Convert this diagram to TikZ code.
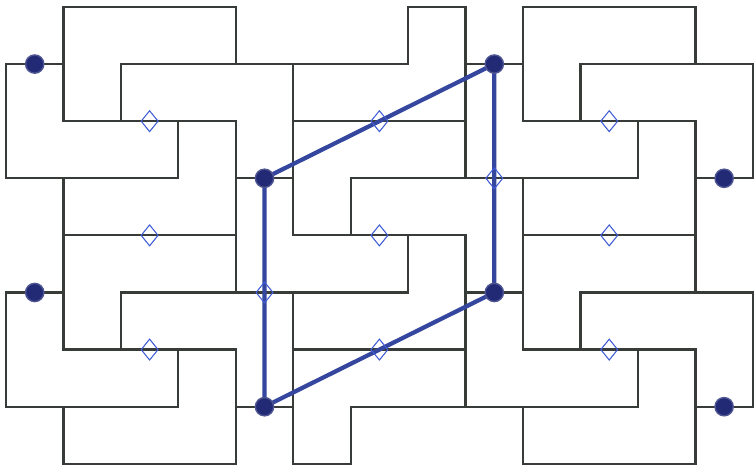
\documentclass[tikz,border=0pt]{standalone}
\usetikzlibrary{shapes.geometric}

\definecolor{wallgray}{RGB}{56,60,56}
\definecolor{penblue}{RGB}{52,70,158}
\definecolor{inkblue}{RGB}{34,42,118}
\definecolor{markblue}{RGB}{64,92,214}

\begin{document}
\begin{tikzpicture}[
  x=1.728cm, y=-1.7175cm,
  wall/.style={draw=wallgray, line width=1.9pt, line cap=rect},
  bond/.style={draw=penblue, line width=3.6pt, line cap=round},
  dot/.style={circle, draw=inkblue!80, line width=1.2pt, fill=inkblue, minimum size=0.55cm, inner sep=0pt},
  diam/.style={diamond, draw=markblue, line width=0.9pt, minimum width=0.52cm, minimum height=0.64cm, inner sep=0pt}
]

% page frame
\fill[white] (-0.104,-0.122) rectangle (13.02,8.087);
\useasboundingbox (-0.104,-0.122) rectangle (13.02,8.087);

% lattice points
\foreach \n/\px/\py in {a/0.5/1, b/4.5/3, c/8.5/1, d/12.5/3, e/0.5/5, f/4.5/7, g/8.5/5, h/12.5/7} {
  \coordinate (\n) at (\px,\py);
}

% horizontal walls (row / from / to)
\foreach \r/\s/\t in {0/1/4, 0/7/8, 0/9/12,
                      1/0/1, 1/2/7, 1/8/9, 1/10/13,
                      2/1/4, 2/5/8, 2/9/12,
                      3/0/3, 3/4/5, 3/6/11, 3/12/13,
                      4/1/4, 4/5/8, 4/9/12,
                      5/0/1, 5/2/7, 5/8/9, 5/10/13,
                      6/1/4, 6/5/8, 6/9/12,
                      7/0/3, 7/4/5, 7/6/11, 7/12/13,
                      8/1/4, 8/5/6, 8/9/12} {
  \draw[wall] (\s,\r) -- (\t,\r);
}

% vertical walls (column / from / to)
\foreach \c/\s/\t in {0/1/3, 0/5/7,
                      1/0/2, 1/3/6, 1/7/8,
                      2/1/2, 2/5/6,
                      3/2/3, 3/6/7,
                      4/0/1, 4/2/5, 4/6/8,
                      5/1/4, 5/5/8,
                      6/3/4, 6/7/8,
                      7/0/1, 7/4/5,
                      8/0/3, 8/4/7,
                      9/0/2, 9/3/6, 9/7/8,
                      10/1/2, 10/5/6,
                      11/2/3, 11/6/7,
                      12/0/1, 12/2/5, 12/6/8,
                      13/1/3, 13/5/7} {
  \draw[wall] (\c,\s) -- (\c,\t);
}

% parallelogram cell
\draw[bond] (b) -- (c) -- (g) -- (f) -- cycle;

% half-way marks
\foreach \n/\px/\py in {m1/2.5/2, m2/2.5/4, m3/2.5/6, m4/6.5/2, m5/6.5/4, m6/6.5/6,
                        m7/10.5/2, m8/10.5/4, m9/10.5/6, m10/8.5/3, m11/4.5/5} {
  \node[diam] (\n) at (\px,\py) {};
}

% lattice dots
\foreach \n in {a,b,c,d,e,f,g,h} {
  \node[dot] (dot-\n) at (\n) {};
}

\end{tikzpicture}
\end{document}
